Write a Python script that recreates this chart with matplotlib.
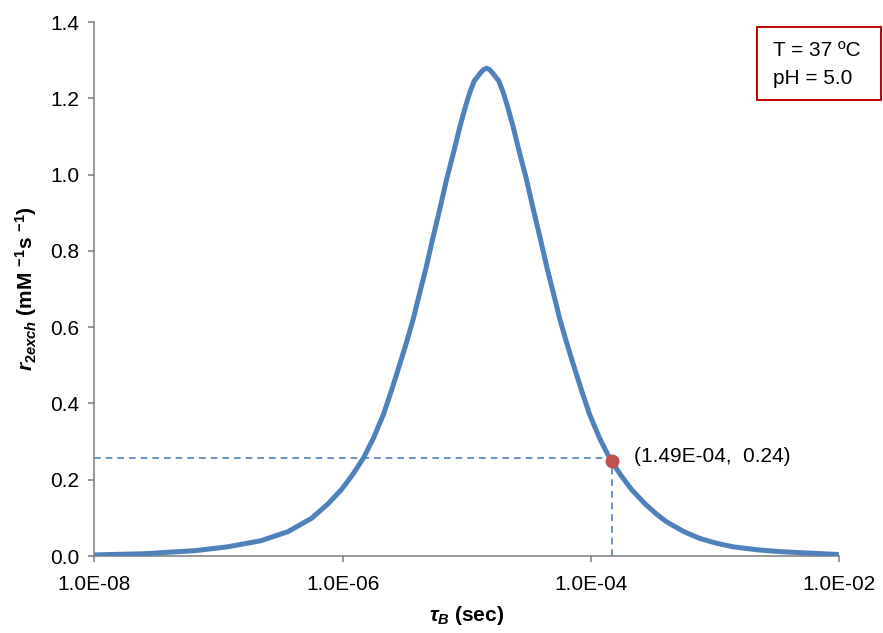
import numpy as np
import matplotlib.pyplot as plt
from matplotlib.patches import Rectangle

plt.rcParams['font.family'] = ['Liberation Sans', 'DejaVu Sans']
plt.rcParams['mathtext.fontset'] = 'custom'
plt.rcParams['mathtext.it'] = 'Liberation Sans:italic:bold'
plt.rcParams['mathtext.rm'] = 'Liberation Sans:bold'
plt.rcParams['mathtext.bf'] = 'Liberation Sans:bold'

# curve: log10(tau_B) and r2exch
log_tau = [-8.00, -7.60, -7.19, -6.93, -6.66, -6.44, -6.25, -6.12, -6.01, -5.92,
           -5.83, -5.75, -5.67, -5.605, -5.54, -5.485, -5.43, -5.38, -5.33, -5.275,
           -5.22, -5.16, -5.10, -5.055, -5.01, -4.975, -4.94, -4.89, -4.865, -4.84,
           -4.815, -4.79, -4.74, -4.705, -4.67, -4.625, -4.58, -4.52, -4.46, -4.405,
           -4.35, -4.30, -4.25, -4.195, -4.14, -4.075, -4.01, -3.93, -3.85, -3.76,
           -3.67, -3.56, -3.47, -3.39, -3.25, -3.12, -2.98, -2.85, -2.65, -2.45, -2.00]
r2exch = [0.003, 0.006, 0.014, 0.024, 0.040, 0.064, 0.099, 0.136, 0.174, 0.213,
          0.258, 0.310, 0.372, 0.435, 0.502, 0.560, 0.622, 0.688, 0.752, 0.830,
          0.905, 0.990, 1.065, 1.125, 1.178, 1.215, 1.245, 1.266, 1.275, 1.279,
          1.275, 1.266, 1.245, 1.215, 1.178, 1.125, 1.065, 0.990, 0.905, 0.830,
          0.752, 0.688, 0.622, 0.560, 0.502, 0.435, 0.372, 0.310, 0.258, 0.213,
          0.174, 0.136, 0.110, 0.090, 0.064, 0.046, 0.033, 0.024, 0.016, 0.011, 0.004]
tau = [10 ** v for v in log_tau]

pt_x = 1.49e-4
pt_y = 0.25
pt_label = '(1.49E-04,  0.24)'

fig = plt.figure(figsize=(8.83, 6.33), dpi=100)
ax = fig.add_axes([0.107, 0.1216, 0.843, 0.8436])

blue = '#4F81BD'
ax.plot(tau, r2exch, color=blue, lw=3.6, solid_joinstyle='round', solid_capstyle='butt', zorder=3)
ax.plot([1e-8, pt_x], [pt_y + 0.007, pt_y + 0.007], color=blue, lw=1.2, ls=(0, (4, 3)), zorder=2)
ax.plot([pt_x, pt_x], [0, pt_y], color=blue, lw=1.2, ls=(0, (4, 3)), zorder=2)
ax.plot([pt_x], [pt_y], 'o', color='#C0504D', ms=9, zorder=4)
ax.annotate(pt_label, (pt_x, pt_y), xytext=(16, 3), textcoords='offset points',
            fontsize=15, va='center')

ax.set_xscale('log')
ax.set_xlim(1e-8, 1e-2)
ax.set_ylim(0, 1.4)
ax.set_xticks([1e-8, 1e-6, 1e-4, 1e-2])
ax.set_xticklabels(['1.0E-08', '1.0E-06', '1.0E-04', '1.0E-02'])
ax.xaxis.set_minor_locator(plt.NullLocator())
ax.set_yticks(np.arange(0, 1.41, 0.2))
ax.set_yticklabels(['%.1f' % v for v in np.arange(0, 1.41, 0.2)])

for s in ['top', 'right']:
    ax.spines[s].set_visible(False)
for s in ['left', 'bottom']:
    ax.spines[s].set_color('#868686')
    ax.spines[s].set_linewidth(1.2)
ax.tick_params(colors='#868686', labelcolor='black', labelsize=15, length=4, width=1.2)
ax.tick_params(axis='x', pad=10)
ax.tick_params(axis='y', pad=7)

ax.set_xlabel(r'$\tau_B$ (sec)', fontsize=15, fontweight='bold', labelpad=7)
ax.set_ylabel(r'$r_{2exch}$ (mM $^{\mathrm{-1}}$s $^{\mathrm{-1}}$)', fontsize=15,
              fontweight='bold', labelpad=8)

# condition box in the top right corner
fig.patches.append(Rectangle((0.857, 0.842), 0.1404, 0.1153, transform=fig.transFigure,
                             fill=False, ec='#C00000', lw=1.4))
fig.text(0.875, 0.921, 'T = 37 ºC', fontsize=15, va='center', ha='left')
fig.text(0.875, 0.876, 'pH = 5.0', fontsize=15, va='center', ha='left')

fig.savefig('out.png', dpi=100)
